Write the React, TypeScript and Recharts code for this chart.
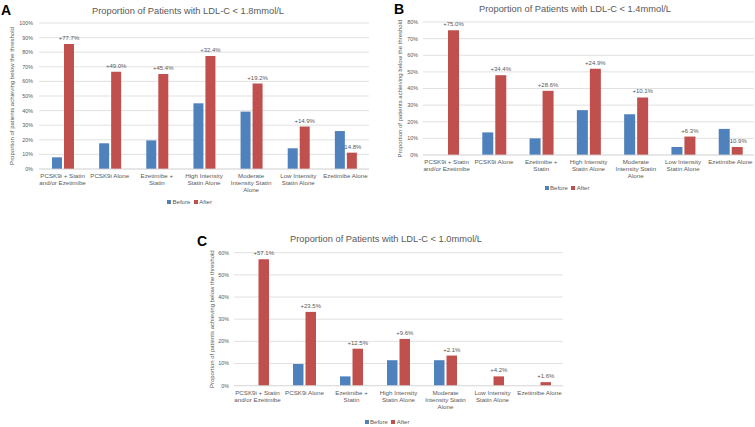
import { BarChart, Bar, XAxis, YAxis, CartesianGrid, Legend, LabelList } from 'recharts';

const FONT = '"Liberation Sans", Arial, sans-serif';
const TEXT = '#595959';
const GRID = '#d9d9d9';
const BLUE = '#4f81bd';
const RED = '#c0504d';

// treatment groups (line breaks as wrapped in the figure)
const categories = [
  'PCSK9i + Statin\nand/or Ezetimibe',
  'PCSK9i Alone',
  'Ezetimibe +\nStatin',
  'High Intensity\nStatin Alone',
  'Moderate\nIntensity Statin\nAlone',
  'Low Intensity\nStatin Alone',
  'Ezetimibe Alone'
];

// A: LDL-C < 1.8mmol/L
const beforeA = [8.0, 17.6, 19.6, 45.0, 39.3, 14.2, 26.0];
const afterA = [85.7, 66.6, 65.0, 77.4, 58.5, 29.1, 11.2];
const changeA = ['+77.7%', '+49.0%', '+45.4%', '+32.4%', '+19.2%', '+14.9%', '-14.8%'];
const ticksA = [0, 10, 20, 30, 40, 50, 60, 70, 80, 90, 100];

// B: LDL-C < 1.4mmol/L
const beforeB = [0, 13.6, 10.0, 27.0, 24.5, 4.8, 15.7];
const afterB = [75.0, 48.0, 38.6, 51.9, 34.6, 11.1, 4.8];
const changeB = ['+75.0%', '+34.4%', '+28.6%', '+24.9%', '+10.1%', '+6.3%', '-10.9%'];
const ticksB = [0, 10, 20, 30, 40, 50, 60, 70, 80];

// C: LDL-C < 1.0mmol/L
const beforeC = [0, 9.8, 4.2, 11.5, 11.5, 0, 0];
const afterC = [57.1, 33.3, 16.7, 21.1, 13.6, 4.2, 1.6];
const changeC = ['+57.1%', '+23.5%', '+12.5%', '+9.6%', '+2.1%', '+4.2%', '+1.6%'];
const ticksC = [0, 10, 20, 30, 40, 50, 60];

const yLabel = 'Proportion of patients achieving below the threshold';
const seriesOrder = ['before', 'after'];

function CatTick(props: any) {
  const { x, y, payload } = props;
  const lines = String(payload.value).split('\n');
  return (
    <text x={x} y={y} textAnchor="middle" fontSize={6.2} fill={TEXT} fontFamily={FONT}>
      {lines.map((l, i) => (
        <tspan key={i} x={x} dy={i === 0 ? 9 : 7}>{l}</tspan>
      ))}
    </text>
  );
}

function ChangeLabel(props: any) {
  const { x, y, width, value } = props;
  return (
    <text x={x + width / 2} y={y - 4} textAnchor="middle" fontSize={6} fill={TEXT} fontFamily={FONT}>
      {String(value)}
    </text>
  );
}

function LegendBox(props: any) {
  const items = [...(props.payload || [])].sort(
    (a: any, b: any) => seriesOrder.indexOf(a.dataKey) - seriesOrder.indexOf(b.dataKey)
  );
  return (
    <div style={{ display: 'flex', justifyContent: 'center', alignItems: 'center', fontSize: 6, color: TEXT, fontFamily: FONT, lineHeight: '8px' }}>
      {items.map((it: any, i: number) => (
        <span key={i} style={{ display: 'flex', alignItems: 'center', marginLeft: i === 0 ? 0 : 3.5 }}>
          <span style={{ display: 'inline-block', width: 4, height: 4, background: it.color, marginRight: 1.5 }} />
          {it.value}
        </span>
      ))}
    </div>
  );
}

type PanelProps = {
  left: number; top: number; width: number; height: number;
  margin: { top: number; right: number; bottom: number; left: number };
  yWidth: number; labelOffset: number; tickMargin: number;
  letter: string; letterX: number; letterY: number;
  title: string; titleX: number; titleY: number;
  legendY: number; legendShift: number;
  before: number[]; after: number[]; change: string[]; ticks: number[];
  barSize: number;
};

function Panel(p: PanelProps) {
  const data = categories.map((name, i) => ({ name, before: p.before[i], after: p.after[i], change: p.change[i] }));
  const max = p.ticks[p.ticks.length - 1];
  return (
    <div style={{ position: 'absolute', left: p.left, top: p.top, width: p.width, height: p.height }}>
      <BarChart width={p.width} height={p.height} data={data} margin={p.margin} barGap={2} barCategoryGap="10%">
        <CartesianGrid vertical={false} stroke={GRID} strokeWidth={0.8} />
        <XAxis dataKey="name" interval={0} tick={<CatTick />} tickLine={false} tickSize={0} tickMargin={0}
          axisLine={{ stroke: GRID, strokeWidth: 0.8 }} height={30} />
        <YAxis domain={[0, max]} ticks={p.ticks} tickFormatter={(v: number) => v + '%'} axisLine={false} tickLine={false}
          tickSize={0} tickMargin={p.tickMargin} width={p.yWidth} interval={0}
          tick={{ fontSize: 5.4, fill: TEXT, fontFamily: FONT }}
          label={{ value: yLabel, angle: -90, position: 'insideLeft', offset: p.labelOffset, fontSize: 6, fill: TEXT, fontFamily: FONT, style: { textAnchor: 'middle' } }} />
        <Bar dataKey="before" name="Before" fill={BLUE} barSize={p.barSize} isAnimationActive={false} />
        <Bar dataKey="after" name="After" fill={RED} barSize={p.barSize} isAnimationActive={false}>
          <LabelList dataKey="change" content={<ChangeLabel />} />
        </Bar>
        <Legend layout="horizontal" verticalAlign="middle" align="center" content={<LegendBox />}
          wrapperStyle={{ top: p.legendY - 4, left: p.legendShift, width: p.width, height: 8 }} />
      </BarChart>
      <div style={{ position: 'absolute', left: p.titleX - 150, top: p.titleY - 6, width: 300, textAlign: 'center', fontSize: 9.3, color: TEXT, fontFamily: FONT, lineHeight: '12px', whiteSpace: 'nowrap' }}>
        {p.title}
      </div>
      <div style={{ position: 'absolute', left: p.letterX, top: p.letterY, fontSize: 14, fontWeight: 'bold', color: '#000', fontFamily: FONT, lineHeight: '14px' }}>
        {p.letter}
      </div>
    </div>
  );
}

export default function App() {
  return (
    <div style={{ position: 'absolute', left: 0, top: 0, width: 755, height: 427, background: '#fff', overflow: 'hidden' }}>
      <Panel left={0} top={0} width={375} height={210}
        margin={{ top: 23, right: 6, bottom: 11, left: 10 }} yWidth={29} labelOffset={2} tickMargin={6}
        letter="A" letterX={1} letterY={3} title="Proportion of Patients with LDL-C < 1.8mmol/L" titleX={188} titleY={10.7}
        legendY={202} legendShift={2} before={beforeA} after={afterA} change={changeA} ticks={ticksA} barSize={10} />
      <Panel left={375} top={0} width={380} height={210}
        margin={{ top: 22, right: 1, bottom: 25, left: 20 }} yWidth={28} labelOffset={5} tickMargin={5}
        letter="B" letterX={19} letterY={1.5} title="Proportion of Patients with LDL-C < 1.4mmol/L" titleX={200} titleY={9.3}
        legendY={188} legendShift={2} before={beforeB} after={afterB} change={changeB} ticks={ticksB} barSize={11} />
      <Panel left={180} top={205} width={400} height={222}
        margin={{ top: 47.7, right: 17, bottom: 11.3, left: 30 }} yWidth={24} labelOffset={2} tickMargin={5}
        letter="C" letterX={17} letterY={28.5} title="Proportion of Patients with LDL-C < 1.0mmol/L" titleX={206} titleY={34}
        legendY={217} legendShift={7} before={beforeC} after={afterC} change={changeC} ticks={ticksC} barSize={10.5} />
    </div>
  );
}
